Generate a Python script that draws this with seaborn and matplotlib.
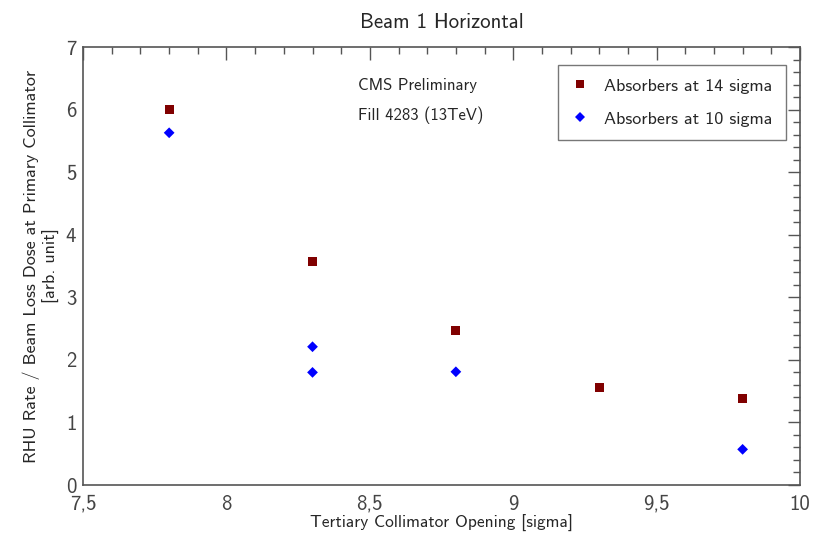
import pandas as pd
import seaborn as sns
import matplotlib.pyplot as plt
from matplotlib.ticker import MultipleLocator, FuncFormatter

# Tertiary collimator opening [sigma] and RHU rate / beam loss dose
opening_14 = [7.8, 8.3, 8.8, 9.3, 9.8]
rate_14 = [6.00, 3.58, 2.47, 1.56, 1.39]
opening_10 = [7.8, 8.3, 8.3, 8.8, 9.8]
rate_10 = [5.63, 2.21, 1.80, 1.81, 0.57]
series_names = ['Absorbers at 14 sigma', 'Absorbers at 10 sigma']

df = pd.concat([
    pd.DataFrame({'opening': opening_14, 'rate': rate_14, 'series': series_names[0]}),
    pd.DataFrame({'opening': opening_10, 'rate': rate_10, 'series': series_names[1]}),
])

sns.set_style('white')
plt.rcParams['font.family'] = ['cmss10', 'DejaVu Sans']
plt.rcParams['axes.formatter.use_mathtext'] = True

fig = plt.figure(figsize=(8.23, 5.41), dpi=100)
ax = fig.add_axes([0.101, 0.1035, 0.871, 0.8095])

sns.scatterplot(data=df, x='opening', y='rate', hue='series', style='series',
                palette={series_names[0]: '#800000', series_names[1]: '#0000ff'},
                markers={series_names[0]: 's', series_names[1]: 'D'},
                size='series', sizes={series_names[0]: 42, series_names[1]: 30},
                linewidth=0, ax=ax)

ax.set_xlim(7.5, 10)
ax.set_ylim(0, 7)
ax.xaxis.set_major_locator(MultipleLocator(0.5))
ax.xaxis.set_minor_locator(MultipleLocator(0.1))
ax.yaxis.set_major_locator(MultipleLocator(1))
ax.yaxis.set_minor_locator(MultipleLocator(0.2))
ax.xaxis.set_major_formatter(FuncFormatter(lambda v, p: f'{v:g}'.replace('.', ',')))
ax.yaxis.set_major_formatter(FuncFormatter(lambda v, p: f'{v:g}'))

ax.tick_params(which='both', direction='in', top=True, right=True, color='#555555',
               labelsize=15, labelcolor='#444444')
ax.tick_params(axis='x', pad=7)
ax.tick_params(axis='y', pad=5)
ax.tick_params(which='major', length=9, width=1)
ax.tick_params(which='minor', length=5, width=1)
for sp in ax.spines.values():
    sp.set_color('#555555')
    sp.set_linewidth(1.2)

ax.set_xlabel('Tertiary Collimator Opening [sigma]', fontsize=12.5, labelpad=1)
ax.set_ylabel('RHU Rate / Beam Loss Dose at Primary Collimator\n[arb. unit]', fontsize=13, labelpad=4)
ax.set_title('Beam 1 Horizontal', fontsize=15, pad=14)

ax.text(8.46, 6.39, 'CMS Preliminary', fontsize=12, va='center')
ax.text(8.46, 5.91, 'Fill 4283 (13TeV)', fontsize=12, va='center')

leg = ax.legend(loc='upper right', fontsize=13, frameon=True, fancybox=False,
                borderpad=0.75, labelspacing=0.95, handlelength=1.0, handletextpad=0.8,
                borderaxespad=0, bbox_to_anchor=(0.98, 0.96), markerscale=0.85)
leg.get_frame().set_edgecolor('#555555')
leg.get_frame().set_linewidth(1.0)

fig.savefig('out.png', dpi=100)
